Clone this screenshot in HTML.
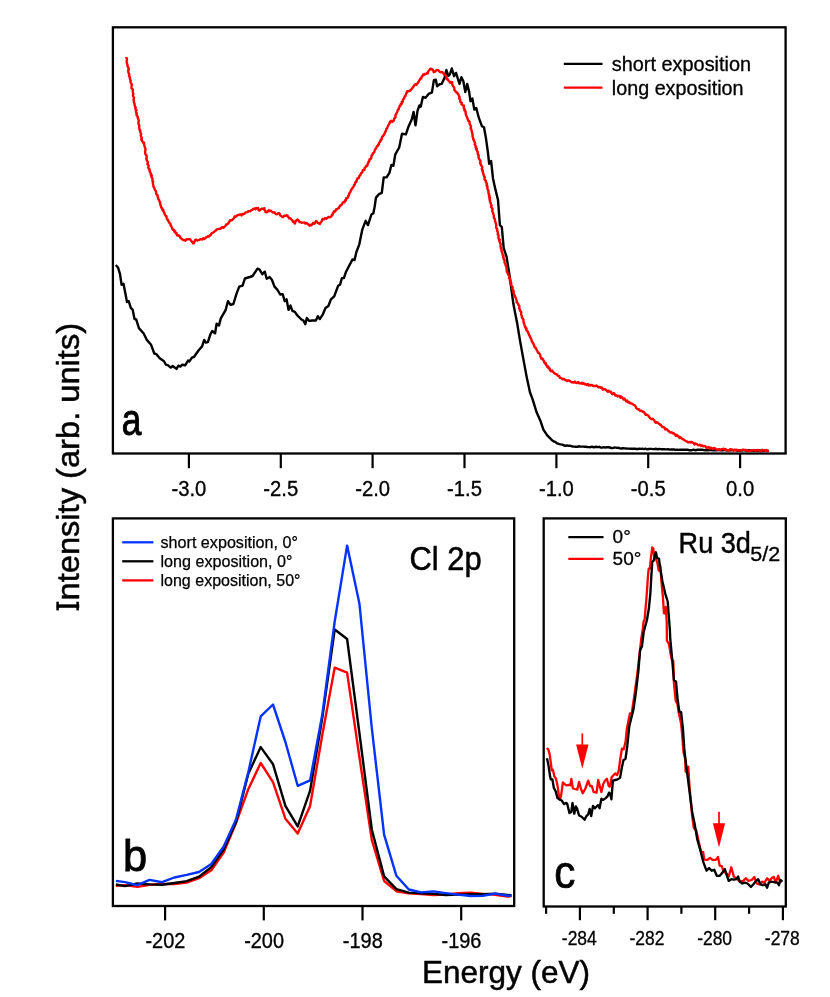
<!DOCTYPE html>
<html><head><meta charset="utf-8"><title>Figure</title>
<style>html,body{margin:0;padding:0;background:#fff;}svg{display:block;will-change:transform;}text{font-family:"Liberation Sans",sans-serif;fill:#000;}</style></head><body>
<svg width="830" height="997" viewBox="0 0 830 997">
<rect x="0" y="0" width="830" height="997" fill="#fff"/>
<path d="M115.8,265.0 L118.1,267.7 L120.0,274.1 L121.6,284.7 L123.5,283.7 L125.4,293.4 L127.0,302.0 L128.7,301.1 L130.8,307.8 L132.7,309.8 L134.5,319.0 L136.2,319.4 L138.9,328.1 L143.7,333.5 L146.6,339.6 L151.1,344.8 L154.3,353.5 L156.3,354.1 L159.7,358.3 L164.0,361.2 L165.9,364.7 L167.8,365.1 L170.7,367.6 L172.7,366.0 L176.5,368.9 L178.4,365.7 L180.4,366.6 L182.3,364.7 L185.2,365.3 L188.1,360.5 L189.4,361.4 L191.9,357.6 L193.9,357.0 L198.7,350.2 L202.1,346.4 L204.1,340.0 L205.8,342.5 L207.9,342.1 L210.2,334.8 L212.2,331.0 L215.1,333.3 L216.6,323.8 L218.9,325.6 L220.8,318.4 L225.7,309.8 L228.0,301.1 L230.5,304.9 L233.4,304.0 L236.3,294.3 L239.2,286.6 L242.6,285.7 L244.9,278.5 L249.8,277.0 L252.6,276.0 L257.5,268.7 L259.4,269.3 L262.3,274.2 L264.8,271.7 L266.7,278.7 L269.6,277.1 L272.0,280.0 L274.5,286.7 L277.3,289.6 L280.2,294.5 L282.7,294.1 L284.7,301.2 L286.6,299.3 L288.5,309.9 L290.5,305.6 L292.4,310.8 L294.7,311.8 L297.6,315.7 L301.4,319.5 L303.4,320.5 L305.3,324.3 L306.8,318.0 L309.2,320.9 L312.0,320.5 L315.9,320.5 L317.8,316.2 L319.8,319.1 L322.7,314.7 L325.5,308.0 L328.4,306.0 L330.9,299.3 L334.2,296.4 L338.1,285.8 L340.0,284.8 L341.9,278.1 L343.9,278.1 L345.8,272.3 L352.5,259.4 L354.5,260.1 L356.4,252.0 L359.3,244.3 L362.2,229.9 L365.6,220.8 L368.0,225.1 L371.4,214.5 L373.3,213.5 L374.6,207.0 L376.0,197.6 L378.9,194.2 L381.8,192.8 L383.7,177.4 L386.6,177.4 L389.5,172.6 L391.4,164.9 L393.4,165.8 L395.3,154.3 L399.2,147.5 L402.0,133.7 L405.9,134.4 L408.2,127.3 L411.7,119.6 L413.6,111.9 L415.5,125.4 L417.5,110.9 L419.4,105.5 L420.7,106.7 L422.9,97.0 L425.6,97.8 L429.0,93.6 L431.9,92.6 L433.9,80.1 L435.8,79.7 L437.1,86.2 L439.6,84.3 L441.6,83.9 L444.5,78.1 L446.4,70.0 L448.3,75.8 L449.9,74.3 L451.8,68.5 L454.1,76.2 L456.0,72.9 L459.5,83.9 L461.4,77.2 L463.3,81.0 L465.3,92.0 L467.2,83.9 L469.1,91.6 L470.5,101.3 L472.4,98.4 L474.3,109.6 L476.3,108.0 L478.8,117.7 L482.0,126.3 L484.0,127.3 L485.9,137.9 L487.8,151.4 L489.2,163.9 L491.1,161.0 L493.0,178.4 L495.5,189.9 L498.0,200.0 L499.9,225.1 L501.8,227.0 L503.7,248.2 L506.6,256.9 L509.5,275.2 L513.4,304.1 L517.2,323.4 L519.9,340.0 L524.1,363.1 L527.0,378.6 L529.9,392.0 L532.8,399.8 L536.6,412.3 L540.5,421.0 L543.4,429.6 L547.2,435.4 L552.0,440.2 L552.0,440.2 L553.1,440.9 L554.3,441.7 L555.5,442.0 L556.6,443.2 L557.8,443.5 L559.4,444.1 L560.9,444.4 L562.4,444.6 L564.0,445.5 L565.5,445.8 L567.0,445.4 L568.4,445.9 L569.8,445.6 L571.3,446.1 L572.8,446.5 L574.2,446.6 L575.6,446.7 L577.1,446.9 L578.6,446.3 L580.0,446.5 L581.6,446.6 L583.1,446.6 L584.5,446.7 L586.0,446.8 L587.5,447.1 L589.0,447.1 L590.5,447.2 L592.0,446.7 L593.5,447.3 L595.0,447.0 L596.4,446.8 L597.9,447.1 L599.3,446.8 L600.9,447.6 L602.3,447.5 L603.8,447.1 L605.3,447.6 L606.8,447.2 L608.3,447.2 L609.8,447.5 L611.3,448.0 L612.7,448.1 L614.2,447.5 L615.7,447.6 L617.1,447.9 L618.7,447.8 L620.1,448.4 L621.6,448.5 L623.1,448.2 L624.6,448.4 L626.1,448.5 L627.5,448.6 L629.0,448.6 L630.5,448.8 L631.9,448.6 L633.5,448.8 L634.9,448.6 L636.4,449.0 L637.9,449.0 L639.5,448.6 L641.0,448.9 L642.5,448.8 L644.0,449.1 L645.5,448.7 L647.1,449.3 L648.5,449.0 L650.1,448.9 L651.6,448.9 L653.1,449.1 L654.6,449.0 L656.1,448.8 L657.6,449.3 L659.1,449.0 L660.6,449.1 L662.1,449.3 L663.6,449.1 L665.1,449.3 L666.6,449.4 L668.1,449.3 L669.6,449.6 L671.1,449.5 L672.6,449.4 L674.1,449.5 L675.6,449.9 L677.1,449.6 L678.6,449.9 L680.1,449.7 L681.5,449.7 L683.1,449.7 L684.5,449.8 L686.0,449.8 L687.5,449.6 L688.9,450.2 L690.5,450.2 L691.9,450.2 L693.5,449.7 L694.9,450.2 L696.4,450.0 L697.8,449.8 L699.3,449.7 L700.8,449.8 L702.3,449.7 L703.8,450.1 L705.3,450.3 L706.8,450.1 L708.2,450.2 L709.7,449.9 L711.2,450.1 L712.6,450.4 L714.2,450.0 L715.6,450.3 L717.1,450.3 L718.6,449.9 L720.2,450.4 L721.7,450.4 L723.3,450.4 L724.8,449.9 L726.4,450.5 L727.8,450.1 L729.4,450.3 L731.0,450.3 L732.5,450.0 L734.0,450.1 L735.5,450.1 L737.2,450.7 L738.6,450.5 L740.2,450.4 L741.7,450.6 L743.2,450.4 L744.7,450.4 L746.2,450.6 L747.7,450.5 L749.2,450.3 L750.7,450.6 L752.3,450.5 L753.8,450.7 L755.2,450.5 L756.8,450.8 L758.3,450.8 L759.8,450.5 L761.3,450.8 L762.7,450.6 L764.3,450.9 L765.8,450.6 L767.3,450.9 L768.8,450.7" fill="none" stroke="#000" stroke-width="2.4" stroke-linejoin="round" stroke-linecap="butt"/>
<path d="M126.4,57.0 L126.4,57.8 L126.9,58.8 L126.9,60.1 L126.6,61.3 L126.7,62.3 L126.9,63.0 L127.5,64.8 L127.3,65.3 L128.0,67.0 L128.1,67.6 L128.7,68.3 L128.7,69.6 L128.1,70.5 L128.5,72.2 L128.5,73.1 L129.2,74.0 L129.3,74.8 L129.0,76.0 L129.9,77.3 L129.8,78.5 L130.1,79.3 L130.7,80.7 L130.4,81.7 L130.9,83.1 L131.4,83.6 L131.9,84.5 L131.5,86.2 L131.5,87.0 L131.6,88.3 L132.6,89.2 L132.9,90.1 L132.8,91.4 L132.9,92.3 L133.3,93.8 L133.1,94.6 L132.9,95.7 L133.7,97.1 L134.0,97.5 L133.7,98.9 L133.5,99.8 L133.9,100.5 L133.9,102.2 L134.2,102.8 L134.6,104.4 L134.5,105.1 L135.2,106.5 L135.7,107.6 L135.3,108.2 L135.7,109.7 L136.5,110.1 L135.9,111.3 L136.2,112.5 L136.8,113.4 L136.4,114.6 L137.1,115.8 L137.9,117.0 L137.7,118.0 L138.1,118.5 L138.6,120.2 L138.8,121.3 L138.5,122.0 L138.4,123.3 L138.6,123.8 L139.0,125.0 L139.3,125.9 L139.1,127.1 L139.4,128.4 L139.5,129.9 L140.3,130.3 L140.1,131.5 L140.5,132.4 L141.2,134.3 L140.9,134.9 L140.7,135.6 L141.2,136.8 L141.9,137.8 L141.2,139.6 L141.9,139.9 L142.1,140.9 L143.1,142.7 L144.2,142.7 L144.0,143.3 L144.0,144.7 L144.6,145.8 L144.5,146.4 L145.2,148.1 L145.4,149.0 L145.5,150.1 L145.0,150.9 L145.3,151.6 L145.1,152.9 L145.5,154.3 L146.4,155.2 L146.6,156.7 L146.8,157.3 L146.3,158.2 L146.5,159.3 L147.2,161.0 L147.7,161.7 L147.8,163.1 L147.4,164.1 L148.5,165.3 L148.6,166.1 L148.3,167.5 L148.7,168.6 L149.6,169.3 L149.4,170.8 L150.1,171.1 L149.9,172.1 L151.1,173.7 L150.7,174.7 L151.9,175.6 L151.4,176.6 L151.5,177.2 L152.6,178.9 L152.4,180.2 L152.5,181.2 L153.2,181.7 L152.8,182.9 L153.1,184.2 L153.3,185.2 L153.5,186.7 L153.9,187.4 L154.6,188.8 L154.9,189.8 L155.4,190.4 L155.8,191.0 L156.2,192.1 L156.1,193.7 L156.7,194.4 L157.7,195.5 L157.6,196.4 L158.2,197.7 L158.0,198.5 L158.5,199.2 L159.4,200.5 L159.5,201.7 L160.2,202.4 L160.2,203.5 L160.4,204.7 L160.7,205.5 L161.1,206.9 L161.7,208.2 L162.2,208.1 L162.6,210.3 L163.2,209.8 L163.5,211.4 L164.0,212.0 L164.6,213.8 L165.3,215.2 L165.6,215.9 L166.2,215.9 L166.8,218.3 L167.1,219.3 L167.7,219.5 L168.3,221.1 L168.6,221.4 L169.2,222.2 L169.6,223.2 L170.3,223.6 L170.7,225.4 L171.1,226.2 L171.9,227.4 L172.4,229.2 L173.3,230.0 L173.8,229.7 L174.4,231.5 L175.1,231.2 L175.8,233.5 L176.6,233.3 L177.1,235.4 L178.1,235.7 L178.8,235.2 L179.9,236.6 L180.6,238.2 L181.6,238.6 L182.3,239.4 L183.2,240.2 L184.2,239.9 L185.4,240.8 L186.5,239.3 L187.8,239.4 L188.9,239.1 L190.1,239.1 L190.7,240.2 L191.5,241.1 L192.0,241.8 L192.6,242.4 L193.1,243.3 L193.9,243.3 L193.7,242.3 L194.9,241.1 L195.1,240.5 L195.2,239.9 L196.2,239.6 L197.3,240.5 L198.2,240.2 L199.3,239.8 L200.3,239.3 L201.2,238.9 L202.2,239.6 L203.2,238.2 L204.2,239.0 L205.4,238.3 L206.2,237.1 L207.1,236.9 L208.0,236.2 L208.9,236.5 L209.9,235.1 L210.6,235.3 L211.5,233.5 L212.3,232.9 L213.3,232.5 L214.1,231.9 L214.9,230.9 L215.8,230.6 L216.6,229.4 L217.5,229.2 L218.5,229.1 L219.4,228.8 L220.4,228.9 L221.3,227.7 L222.4,227.1 L223.4,227.8 L223.9,227.4 L224.9,226.2 L225.6,225.8 L226.2,224.5 L227.1,224.4 L227.9,223.6 L228.6,223.0 L229.3,221.8 L230.2,220.2 L231.2,220.2 L232.0,220.3 L233.0,219.1 L233.8,218.4 L234.6,216.4 L235.5,216.9 L236.4,216.2 L237.4,215.1 L238.5,215.1 L239.3,214.7 L240.5,214.3 L241.5,215.4 L242.4,214.0 L243.4,214.2 L244.5,213.7 L245.4,212.4 L246.3,212.4 L247.5,212.1 L248.4,211.1 L249.3,211.1 L250.4,211.3 L251.4,210.1 L252.4,209.9 L253.4,208.8 L254.5,208.5 L255.5,209.3 L256.3,207.9 L257.5,208.3 L258.1,208.1 L258.7,210.3 L259.3,210.6 L260.2,210.0 L261.3,208.7 L262.2,208.8 L263.1,208.6 L263.8,208.4 L264.4,208.3 L264.3,209.8 L265.3,210.7 L265.4,211.9 L266.7,212.3 L267.6,211.8 L268.7,210.3 L269.7,211.0 L270.7,210.7 L271.5,211.4 L272.7,212.3 L273.5,212.5 L274.4,212.3 L275.6,213.9 L276.8,214.3 L278.0,213.3 L279.3,213.3 L280.2,215.5 L281.3,216.0 L282.2,217.0 L283.2,217.1 L284.1,215.7 L285.1,215.8 L286.1,215.7 L286.7,215.2 L287.7,216.0 L288.4,217.1 L289.1,218.4 L290.1,218.2 L290.8,218.9 L291.6,219.8 L292.3,220.1 L293.1,222.1 L293.9,221.5 L294.8,223.6 L295.7,221.2 L296.6,220.3 L297.6,219.5 L298.5,220.4 L299.5,222.1 L300.5,221.9 L301.4,222.7 L302.3,222.6 L303.2,222.6 L304.5,222.5 L305.3,223.6 L306.4,223.0 L307.3,223.6 L308.4,224.5 L309.6,225.7 L310.6,224.7 L311.3,225.3 L312.4,224.2 L313.2,222.7 L314.1,223.7 L315.1,222.9 L316.0,221.1 L316.8,221.5 L317.9,222.9 L318.9,223.4 L319.8,224.0 L320.4,222.8 L320.8,222.3 L321.5,221.7 L322.2,219.8 L322.6,218.9 L323.9,219.4 L325.0,218.0 L326.3,218.7 L327.5,217.8 L328.5,216.9 L329.3,217.3 L330.5,217.1 L331.4,216.4 L331.8,215.0 L332.6,214.8 L333.0,212.7 L333.6,212.9 L334.2,211.2 L335.2,211.6 L336.1,209.3 L337.1,209.3 L338.1,208.2 L338.8,208.3 L339.4,206.6 L340.1,206.0 L340.7,205.0 L341.2,205.2 L341.8,204.7 L342.7,202.6 L343.4,202.2 L344.3,202.4 L344.9,200.6 L345.7,200.9 L346.2,198.3 L346.7,198.0 L347.5,198.0 L348.0,197.3 L348.5,195.2 L348.9,195.4 L349.5,192.9 L350.0,192.6 L350.5,191.5 L351.0,190.0 L351.5,189.6 L352.2,188.3 L352.8,187.5 L353.1,187.6 L353.8,185.9 L354.1,185.0 L354.7,184.9 L355.2,182.9 L355.9,181.4 L356.4,181.8 L357.0,179.5 L357.4,178.5 L358.2,177.9 L358.8,178.1 L359.2,176.0 L360.0,175.7 L360.4,174.9 L361.0,173.2 L361.5,173.1 L362.3,172.0 L363.0,170.0 L363.4,170.0 L364.3,170.0 L364.7,167.9 L365.4,167.5 L366.1,166.0 L366.7,166.2 L367.4,165.4 L367.8,163.6 L368.2,162.7 L368.8,161.2 L369.2,161.5 L369.6,159.3 L370.1,159.2 L370.6,159.0 L371.3,158.0 L371.6,155.5 L372.0,155.2 L372.7,154.2 L373.0,153.2 L373.7,152.7 L374.3,152.0 L374.9,149.7 L375.5,149.1 L376.0,148.3 L376.6,147.0 L377.1,146.1 L377.6,146.3 L378.3,144.3 L378.9,144.6 L379.4,142.3 L380.0,142.0 L380.6,140.1 L381.0,140.4 L381.6,139.6 L381.9,137.5 L382.5,136.4 L383.2,136.1 L383.8,134.8 L384.3,134.0 L384.6,133.6 L385.3,131.4 L385.7,131.4 L386.1,130.0 L386.5,128.7 L387.1,128.4 L387.6,126.8 L388.0,126.0 L388.6,124.8 L389.0,123.9 L389.6,123.5 L389.9,121.7 L390.5,121.6 L391.5,120.8 L392.3,121.9 L393.4,121.1 L393.6,120.8 L394.0,119.4 L394.5,118.1 L395.5,117.5 L395.3,115.7 L396.1,114.6 L395.8,114.2 L396.7,113.1 L397.1,112.2 L397.7,110.6 L397.7,110.0 L398.8,109.3 L398.7,108.1 L399.5,107.0 L399.7,105.9 L400.6,105.5 L400.6,104.1 L401.9,103.6 L401.7,101.9 L402.6,102.1 L403.0,99.5 L403.6,99.1 L404.0,98.6 L404.5,96.8 L405.0,95.9 L405.4,96.1 L406.0,94.0 L406.3,93.4 L406.8,92.4 L407.2,91.2 L407.9,91.4 L408.7,91.3 L409.9,90.8 L410.6,90.0 L411.2,89.8 L411.9,88.4 L412.5,87.9 L413.2,87.1 L413.9,85.7 L414.5,85.1 L415.6,84.1 L416.6,84.7 L417.5,83.3 L418.1,82.2 L418.6,81.8 L419.2,80.9 L419.9,79.2 L420.6,78.3 L421.2,78.6 L421.8,76.4 L422.4,76.0 L423.1,74.6 L423.7,75.2 L424.3,73.9 L425.1,74.2 L426.1,74.1 L427.2,72.7 L427.8,73.3 L428.3,71.4 L429.1,70.3 L429.8,69.7 L430.4,68.7 L431.0,69.3 L431.6,68.8 L432.5,69.6 L433.0,70.1 L433.8,72.2 L434.9,71.6 L435.7,71.0 L436.6,70.1 L437.7,70.1 L438.8,70.8 L439.6,71.7 L440.5,72.3 L441.6,71.9 L442.6,72.4 L443.7,73.7 L444.5,74.8 L445.0,74.7 L445.7,75.4 L446.2,76.7 L446.7,79.0 L447.2,79.4 L447.7,79.1 L448.2,80.4 L449.3,81.4 L450.3,82.7 L451.1,82.0 L452.2,82.1 L452.1,84.0 L452.6,85.1 L453.1,86.4 L454.0,87.1 L454.4,88.5 L454.3,90.0 L454.8,90.4 L455.7,91.7 L456.7,92.7 L457.2,92.5 L457.9,93.9 L458.4,94.5 L458.9,95.7 L459.6,97.0 L459.2,98.2 L459.4,98.9 L460.2,99.7 L460.2,101.3 L460.5,102.1 L461.9,102.8 L461.5,104.3 L462.8,105.4 L463.8,105.5 L463.8,107.0 L463.8,108.5 L464.9,109.4 L464.4,110.6 L465.5,111.3 L465.8,112.3 L465.5,113.0 L465.8,114.0 L466.2,115.7 L466.9,116.8 L467.2,117.3 L467.4,118.5 L467.9,119.6 L468.2,120.8 L469.0,121.0 L469.6,121.6 L469.5,123.4 L470.3,125.1 L470.6,125.6 L471.0,126.7 L470.6,128.4 L471.3,129.3 L471.6,130.6 L471.7,131.6 L472.2,132.7 L472.2,133.7 L472.6,134.4 L472.5,135.8 L472.7,137.2 L473.0,137.5 L473.3,139.3 L473.8,139.7 L473.8,140.6 L474.8,142.2 L475.1,143.3 L474.7,144.2 L475.3,145.5 L476.1,146.6 L475.6,147.6 L476.8,148.7 L476.2,149.1 L476.5,149.9 L477.6,151.7 L477.6,152.7 L477.9,153.3 L477.7,154.2 L478.7,155.3 L478.5,156.5 L478.5,157.4 L479.1,158.9 L479.5,159.5 L480.4,160.7 L480.6,161.9 L480.0,162.7 L480.7,164.1 L480.9,165.1 L481.4,165.7 L482.1,166.6 L482.3,167.7 L481.7,168.8 L482.8,170.5 L482.3,171.1 L483.1,172.4 L483.1,173.2 L483.6,174.5 L483.8,175.7 L484.1,176.1 L484.8,177.4 L484.5,178.5 L484.7,179.7 L485.7,180.7 L485.9,181.4 L485.9,182.4 L486.7,183.2 L487.0,184.1 L486.5,185.4 L487.6,186.6 L487.3,188.0 L487.4,188.7 L488.0,189.9 L488.5,190.9 L488.4,191.6 L488.4,193.1 L489.1,194.0 L488.8,194.8 L489.6,196.0 L489.0,196.9 L490.0,197.7 L489.4,198.8 L490.1,200.3 L489.8,200.8 L490.1,202.0 L490.7,202.9 L490.8,204.0 L491.7,205.5 L491.0,206.8 L491.3,207.3 L492.5,208.7 L492.5,209.5 L492.2,210.7 L492.3,211.4 L492.9,212.3 L493.2,214.0 L493.7,214.8 L493.9,215.9 L493.7,217.1 L494.2,218.2 L495.0,219.0 L494.9,220.4 L495.0,221.0 L495.6,222.6 L495.9,223.6 L496.2,224.6 L496.2,225.5 L496.1,226.8 L496.2,227.7 L497.1,229.0 L497.2,229.7 L497.2,231.0 L497.7,232.0 L498.0,233.6 L497.7,234.4 L498.6,235.3 L498.6,236.9 L498.3,237.6 L498.7,238.9 L499.8,239.8 L499.1,240.9 L499.9,242.1 L500.1,243.2 L500.7,244.1 L500.5,245.6 L500.5,246.5 L500.9,247.6 L500.9,248.8 L501.4,249.1 L501.6,250.4 L501.6,251.5 L502.3,252.8 L502.5,253.4 L502.6,254.9 L503.6,255.8 L503.1,257.1 L503.6,257.6 L503.6,259.1 L504.6,260.1 L504.5,261.1 L504.5,262.5 L504.9,263.2 L505.6,264.4 L505.5,265.0 L505.9,265.9 L506.4,267.2 L506.7,268.1 L506.5,269.2 L506.9,270.2 L506.8,271.7 L507.4,272.3 L507.8,273.6 L508.3,274.8 L508.9,275.6 L509.5,277.1 L509.0,278.1 L510.2,279.1 L509.8,280.2 L510.6,280.6 L510.3,282.4 L511.3,282.9 L510.9,283.8 L511.4,285.4 L511.8,285.9 L512.7,287.5 L512.2,288.6 L513.0,289.6 L513.3,290.7 L513.7,291.7 L513.4,292.6 L514.0,293.7 L514.2,294.8 L514.8,295.3 L514.8,296.3 L515.5,297.2 L515.9,298.3 L516.3,299.7 L516.8,301.1 L516.6,302.1 L517.5,302.9 L518.2,304.2 L518.2,304.8 L519.3,305.6 L519.3,307.1 L519.0,308.1 L520.0,309.4 L519.9,310.5 L520.4,311.1 L521.1,311.7 L521.2,313.3 L521.1,314.5 L521.5,315.2 L521.9,316.5 L521.9,317.2 L522.4,318.3 L523.2,319.1 L523.5,320.2 L523.4,321.1 L523.7,322.8 L524.2,323.7 L524.3,324.3 L524.7,325.6 L525.5,326.8 L525.3,327.8 L526.6,328.6 L526.2,329.5 L526.6,330.4 L528.0,331.8 L528.2,333.0 L528.9,333.9 L529.0,334.9 L529.6,335.9 L530.0,336.6 L530.3,337.8 L530.8,338.1 L531.2,338.9 L531.8,341.5 L532.2,341.5 L532.8,343.2 L533.2,343.2 L533.6,344.4 L534.1,345.4 L534.6,347.3 L535.0,347.5 L535.6,347.6 L536.4,349.4 L536.9,350.1 L537.3,350.9 L538.0,352.8 L538.6,352.9 L539.0,353.1 L539.7,354.2 L540.1,354.8 L540.6,356.9 L541.2,358.3 L541.7,359.1 L542.3,358.4 L543.1,359.7 L543.7,360.5 L544.2,362.4 L545.0,363.5 L545.7,363.0 L546.3,365.0 L546.9,366.3 L547.5,367.2 L548.2,366.4 L548.7,368.4 L549.5,368.3 L550.0,370.3 L551.0,371.2 L552.0,370.4 L553.0,371.9 L554.0,372.8 L554.8,373.6 L555.9,374.0 L556.8,374.2 L557.5,375.5 L558.5,376.1 L559.2,375.9 L559.9,377.8 L560.9,378.1 L561.7,378.4 L562.9,379.2 L563.9,378.7 L565.0,380.1 L566.1,380.2 L567.2,381.0 L568.4,380.3 L569.3,380.7 L570.5,381.4 L571.7,382.2 L572.6,382.3 L573.9,382.5 L574.9,381.6 L576.1,382.8 L577.1,383.1 L578.1,381.9 L579.2,383.4 L580.2,383.5 L581.5,382.8 L582.5,383.8 L583.5,383.1 L584.5,384.3 L585.7,384.0 L586.6,384.9 L587.9,384.0 L588.9,385.5 L590.0,385.0 L591.0,385.3 L592.0,384.9 L593.1,386.0 L594.2,386.0 L595.3,386.1 L596.3,385.5 L597.6,386.5 L598.5,387.4 L599.8,386.9 L600.8,387.7 L601.9,387.5 L602.9,389.7 L604.2,389.2 L605.1,389.2 L606.1,390.0 L607.1,391.1 L608.0,391.9 L608.8,390.7 L609.8,391.5 L610.7,391.7 L611.8,393.7 L612.7,394.2 L613.8,393.1 L614.7,394.1 L615.5,395.6 L616.5,395.3 L617.6,396.5 L618.6,395.9 L619.5,395.9 L620.6,397.8 L621.3,396.6 L622.3,397.8 L623.4,399.4 L624.4,398.4 L625.4,400.3 L626.3,401.4 L627.1,400.5 L628.3,402.5 L629.2,402.0 L630.2,403.4 L631.0,403.3 L631.9,403.6 L632.8,404.3 L633.6,404.8 L634.6,405.2 L635.5,406.2 L636.2,408.1 L637.1,408.8 L638.2,409.3 L638.9,409.2 L639.7,410.6 L640.8,410.7 L641.5,410.8 L642.5,411.7 L643.3,411.7 L644.0,412.2 L645.0,413.7 L645.7,414.9 L646.6,414.7 L647.4,415.0 L648.4,415.7 L649.0,416.6 L649.9,418.0 L650.7,418.7 L651.5,419.2 L652.5,418.7 L653.3,419.5 L654.1,420.0 L655.0,422.1 L656.0,422.7 L656.6,422.3 L657.7,422.5 L658.5,423.6 L659.4,423.8 L660.3,425.0 L660.9,425.0 L662.0,426.6 L662.7,427.0 L663.8,427.2 L664.6,427.7 L665.3,429.5 L666.3,429.0 L667.0,429.4 L668.1,430.8 L668.8,430.9 L669.9,432.3 L670.9,432.6 L671.7,432.2 L672.8,433.4 L673.8,433.3 L674.8,434.3 L675.8,435.8 L676.7,434.8 L677.7,436.2 L678.7,436.4 L679.5,437.9 L680.5,437.2 L681.4,438.4 L682.3,438.8 L683.4,439.3 L684.3,440.1 L685.4,440.9 L686.2,441.1 L687.2,441.7 L688.1,442.4 L689.4,442.0 L690.3,442.5 L691.4,441.9 L692.6,442.6 L693.4,442.8 L694.5,444.4 L695.5,443.5 L696.8,444.0 L697.7,445.1 L698.9,445.2 L700.0,444.7 L701.1,446.1 L702.0,445.3 L703.2,446.3 L704.2,445.9 L705.3,446.2 L706.4,447.8 L707.4,447.5 L708.6,447.0 L709.7,448.5 L710.7,447.7 L711.9,448.1 L712.8,449.0 L714.0,448.0 L714.9,448.2 L716.0,449.5 L717.2,449.5 L718.3,449.5 L719.1,449.1 L720.4,449.9 L721.3,449.1 L722.5,449.1 L723.5,448.7 L724.5,449.6 L725.5,449.0 L726.8,450.3 L727.9,450.1 L729.0,450.6 L730.2,449.1 L731.2,449.5 L732.4,449.6 L733.5,450.8 L734.6,449.6 L735.7,450.0 L736.9,449.8 L737.9,450.5 L739.0,450.4 L740.3,450.3 L741.2,450.3 L742.4,449.7 L743.4,449.7 L744.6,450.2 L745.7,449.9 L746.7,450.5 L748.0,450.6 L749.1,450.7 L750.1,450.8 L751.3,450.5 L752.4,450.4 L753.4,450.0 L754.5,450.5 L755.7,450.7 L756.7,450.2 L758.0,450.0 L759.0,450.5 L760.0,451.4 L761.1,451.0 L762.2,449.7 L763.4,450.4 L764.3,450.3 L765.5,450.9 L766.5,450.0 L767.8,450.9 L768.7,450.2" fill="none" stroke="#ff0000" stroke-width="2.4" stroke-linejoin="round" stroke-linecap="butt"/>
<path d="M115.9,885.8 L125.0,885.1 L137.3,886.9 L149.6,884.7 L162.0,884.0 L174.3,884.0 L186.7,882.5 L199.0,878.2 L211.3,870.2 L223.7,852.5 L236.0,823.0 L248.4,788.9 L260.7,763.0 L273.0,782.1 L285.4,818.7 L297.7,833.6 L310.1,805.9 L322.4,734.3 L334.7,667.6 L347.1,672.6 L359.4,757.0 L371.8,839.8 L384.1,881.0 L396.4,891.2 L408.8,893.4 L421.1,894.0 L433.5,895.0 L445.8,894.6 L458.1,893.1 L470.5,892.7 L482.8,893.9 L495.2,894.9 L507.5,896.5 L511.5,896.0" fill="none" stroke="#ff0000" stroke-width="2.4" stroke-linejoin="round" stroke-linecap="butt"/>
<path d="M115.9,884.5 L125.0,886.1 L137.3,883.5 L149.6,884.4 L162.0,884.7 L174.3,883.0 L186.7,881.1 L199.0,876.7 L211.3,867.1 L223.7,849.5 L236.0,822.1 L248.4,773.5 L260.7,747.1 L273.0,764.2 L285.4,805.9 L297.7,826.4 L310.1,790.6 L322.4,717.3 L334.7,629.5 L347.1,639.0 L359.4,733.0 L371.8,829.5 L384.1,876.4 L396.4,889.2 L408.8,892.6 L421.1,893.2 L433.5,893.9 L445.8,895.0 L458.1,894.6 L470.5,894.3 L482.8,894.3 L495.2,893.6 L507.5,894.9 L511.5,895.3" fill="none" stroke="#000" stroke-width="2.4" stroke-linejoin="round" stroke-linecap="butt"/>
<path d="M115.9,880.9 L125.0,882.1 L137.3,885.2 L149.6,879.9 L162.0,882.2 L174.3,877.5 L186.7,874.9 L199.0,872.0 L211.3,864.0 L223.7,846.5 L236.0,819.6 L248.4,771.8 L260.7,716.4 L273.0,704.5 L285.4,742.0 L297.7,785.8 L310.1,780.4 L322.4,714.0 L334.7,621.5 L347.1,545.6 L359.4,603.4 L371.8,728.0 L384.1,834.7 L396.4,875.8 L408.8,889.5 L421.1,892.4 L433.5,891.4 L445.8,893.1 L458.1,894.6 L470.5,896.0 L482.8,895.7 L495.2,893.6 L507.5,895.7 L511.5,895.6" fill="none" stroke="#0033ff" stroke-width="2.4" stroke-linejoin="round" stroke-linecap="butt"/>
<path d="M547.0,747.8 L548.4,749.9 L549.6,754.1 L550.8,762.5 L551.7,770.4 L552.9,769.8 L554.4,776.4 L556.0,778.8 L557.7,786.6 L558.9,795.7 L559.9,799.9 L561.1,795.7 L562.9,782.4 L564.7,784.2 L566.5,785.4 L568.9,784.8 L570.5,785.4 L571.3,778.8 L572.9,788.4 L574.9,789.0 L577.3,789.6 L579.1,781.8 L581.0,789.0 L582.8,793.3 L585.2,789.0 L588.2,780.6 L590.0,786.0 L591.8,786.0 L593.6,792.0 L596.6,792.7 L598.2,780.0 L599.9,786.6 L601.4,792.0 L603.2,784.2 L605.0,780.6 L606.9,778.8 L608.7,786.0 L609.9,786.6 L611.7,777.0 L613.5,775.2 L615.3,773.4 L617.1,775.2 L618.7,771.0 L620.1,760.1 L621.9,748.7 L623.7,749.3 L625.5,742.0 L626.9,728.4 L629.9,713.4 L631.7,713.4 L634.1,697.1 L637.1,675.4 L639.5,654.9 L641.3,638.1 L642.7,630.0 L643.6,621.3 L644.6,619.8 L646.5,597.7 L648.0,575.5 L648.7,568.7 L649.9,568.7 L651.0,557.2 L652.3,547.5 L653.3,548.5 L654.2,556.2 L656.1,559.1 L657.6,563.9 L658.6,570.2 L659.5,570.7 L660.4,566.0 L661.4,581.3 L662.9,596.7 L663.9,613.1 L665.3,613.6 L665.8,606.8 L666.7,621.7 L666.9,640.5 L669.0,644.1 L671.4,658.6 L673.3,661.0 L673.9,682.7 L675.7,700.7 L677.5,704.3 L678.7,712.8 L681.1,723.6 L682.0,733.0 L683.5,752.2 L685.2,759.0 L685.6,771.8 L688.3,766.7 L689.5,786.3 L692.1,815.3 L693.8,828.0 L696.3,830.6 L698.9,842.5 L701.4,852.8 L703.1,851.9 L704.3,859.6 L707.4,859.9 L710.0,857.9 L712.5,859.9 L715.9,859.9 L718.0,857.0 L719.7,865.6 L721.9,866.4 L723.6,871.5 L726.2,873.2 L728.7,876.6 L731.3,867.3 L733.8,876.6 L736.4,878.3 L739.8,881.7 L743.2,880.9 L745.8,878.3 L748.3,880.9 L751.7,880.0 L754.3,877.0 L756.8,883.5 L759.4,884.3 L762.0,881.7 L764.5,882.6 L767.1,878.3 L769.6,880.9 L772.2,877.5 L773.9,877.0 L775.6,882.6 L778.2,875.8 L779.9,881.7 L782.1,880.9" fill="none" stroke="#ff0000" stroke-width="2.3" stroke-linejoin="round" stroke-linecap="butt"/>
<path d="M547.0,758.3 L548.4,764.9 L550.0,775.8 L550.8,779.4 L552.4,779.4 L553.8,787.8 L555.7,791.4 L557.5,798.1 L559.3,799.3 L561.7,800.5 L564.1,804.1 L565.9,802.9 L567.1,803.5 L569.5,813.1 L571.3,811.9 L572.5,802.9 L574.3,813.7 L575.8,806.5 L577.0,808.3 L579.1,815.5 L581.6,816.7 L584.6,819.8 L586.4,816.1 L588.2,814.3 L589.7,808.9 L591.2,816.1 L593.0,805.9 L594.8,808.3 L596.6,806.5 L598.2,805.3 L599.6,808.3 L601.4,798.7 L603.2,799.9 L605.7,798.1 L607.5,796.3 L609.0,792.7 L610.2,793.9 L611.4,799.3 L612.9,780.6 L615.3,780.0 L617.7,779.4 L620.1,777.6 L621.9,767.3 L623.5,760.1 L625.5,758.9 L627.3,745.7 L629.3,726.0 L631.7,716.4 L633.5,709.2 L635.9,692.3 L638.3,671.8 L640.1,650.1 L641.9,646.5 L643.7,632.0 L647.0,619.8 L648.9,608.3 L650.4,592.8 L651.3,576.4 L652.3,562.0 L653.7,560.5 L654.7,556.2 L655.9,552.3 L657.1,558.1 L659.0,558.6 L660.0,566.8 L662.4,581.3 L665.3,593.8 L667.7,601.5 L668.7,615.0 L669.9,630.0 L670.2,638.1 L672.0,657.3 L673.9,680.2 L676.0,681.4 L677.5,698.3 L679.3,711.6 L681.1,712.2 L682.9,728.4 L684.4,750.5 L686.9,770.9 L689.5,791.4 L692.1,811.8 L694.6,823.8 L697.2,839.1 L700.6,851.1 L703.1,861.3 L706.5,870.7 L709.1,868.1 L711.7,870.7 L714.2,869.8 L716.8,875.8 L719.7,875.8 L722.7,872.4 L724.8,869.0 L727.0,875.8 L728.7,880.9 L731.3,879.2 L733.8,879.7 L736.4,879.2 L738.1,876.6 L739.8,881.7 L742.3,883.5 L744.9,882.6 L747.5,883.5 L750.9,886.9 L753.4,884.3 L756.0,880.9 L758.2,879.2 L760.3,884.3 L762.8,885.2 L765.4,884.3 L767.1,887.7 L768.8,882.6 L771.3,881.7 L773.9,882.1 L777.3,882.6 L779.0,885.2 L780.4,880.0 L782.4,881.7" fill="none" stroke="#000" stroke-width="2.35" stroke-linejoin="round" stroke-linecap="butt"/>
<rect x="112.9" y="27.3" width="672.7" height="426.2" fill="none" stroke="#000" stroke-width="2.3"/>
<rect x="112.9" y="518.4" width="401.3" height="387.6" fill="none" stroke="#000" stroke-width="2.3"/>
<rect x="543.7" y="518.4" width="242.1" height="388.1" fill="none" stroke="#000" stroke-width="2.3"/>
<line x1="188.9" y1="453.5" x2="188.9" y2="468.2" stroke="#000" stroke-width="2.2"/>
<text x="188.9" y="496.2" font-size="21.2" text-anchor="middle" textLength="34.89" lengthAdjust="spacingAndGlyphs" stroke="#000" stroke-width="0.34">-3.0</text>
<line x1="280.8" y1="453.5" x2="280.8" y2="468.2" stroke="#000" stroke-width="2.2"/>
<text x="280.8" y="496.2" font-size="21.2" text-anchor="middle" textLength="34.89" lengthAdjust="spacingAndGlyphs" stroke="#000" stroke-width="0.34">-2.5</text>
<line x1="372.6" y1="453.5" x2="372.6" y2="468.2" stroke="#000" stroke-width="2.2"/>
<text x="372.6" y="496.2" font-size="21.2" text-anchor="middle" textLength="34.89" lengthAdjust="spacingAndGlyphs" stroke="#000" stroke-width="0.34">-2.0</text>
<line x1="464.5" y1="453.5" x2="464.5" y2="468.2" stroke="#000" stroke-width="2.2"/>
<text x="464.5" y="496.2" font-size="21.2" text-anchor="middle" textLength="34.89" lengthAdjust="spacingAndGlyphs" stroke="#000" stroke-width="0.34">-1.5</text>
<line x1="556.4" y1="453.5" x2="556.4" y2="468.2" stroke="#000" stroke-width="2.2"/>
<text x="556.4" y="496.2" font-size="21.2" text-anchor="middle" textLength="34.89" lengthAdjust="spacingAndGlyphs" stroke="#000" stroke-width="0.34">-1.0</text>
<line x1="648.2" y1="453.5" x2="648.2" y2="468.2" stroke="#000" stroke-width="2.2"/>
<text x="648.2" y="496.2" font-size="21.2" text-anchor="middle" textLength="34.89" lengthAdjust="spacingAndGlyphs" stroke="#000" stroke-width="0.34">-0.5</text>
<line x1="740.1" y1="453.5" x2="740.1" y2="468.2" stroke="#000" stroke-width="2.2"/>
<text x="740.1" y="496.2" font-size="21.2" text-anchor="middle" textLength="28.14" lengthAdjust="spacingAndGlyphs" stroke="#000" stroke-width="0.34">0.0</text>
<line x1="165.1" y1="906.0" x2="165.1" y2="920.4" stroke="#000" stroke-width="2.2"/>
<text x="165.4" y="948.4" font-size="21.2" text-anchor="middle" textLength="39.89" lengthAdjust="spacingAndGlyphs" stroke="#000" stroke-width="0.34">-202</text>
<line x1="263.8" y1="906.0" x2="263.8" y2="920.4" stroke="#000" stroke-width="2.2"/>
<text x="264.1" y="948.4" font-size="21.2" text-anchor="middle" textLength="39.89" lengthAdjust="spacingAndGlyphs" stroke="#000" stroke-width="0.34">-200</text>
<line x1="362.5" y1="906.0" x2="362.5" y2="920.4" stroke="#000" stroke-width="2.2"/>
<text x="362.8" y="948.4" font-size="21.2" text-anchor="middle" textLength="39.89" lengthAdjust="spacingAndGlyphs" stroke="#000" stroke-width="0.34">-198</text>
<line x1="461.2" y1="906.0" x2="461.2" y2="920.4" stroke="#000" stroke-width="2.2"/>
<text x="461.5" y="948.4" font-size="21.2" text-anchor="middle" textLength="39.89" lengthAdjust="spacingAndGlyphs" stroke="#000" stroke-width="0.34">-196</text>
<line x1="546.1" y1="906.5" x2="546.1" y2="913.8" stroke="#000" stroke-width="2.2"/>
<line x1="579.9" y1="906.5" x2="579.9" y2="920.2" stroke="#000" stroke-width="2.2"/>
<text x="579.3" y="944.6" font-size="19.4" text-anchor="middle" textLength="34.95" lengthAdjust="spacingAndGlyphs" stroke="#000" stroke-width="0.31">-284</text>
<line x1="613.8" y1="906.5" x2="613.8" y2="913.8" stroke="#000" stroke-width="2.2"/>
<line x1="647.6" y1="906.5" x2="647.6" y2="920.2" stroke="#000" stroke-width="2.2"/>
<text x="647.0" y="944.6" font-size="19.4" text-anchor="middle" textLength="34.95" lengthAdjust="spacingAndGlyphs" stroke="#000" stroke-width="0.31">-282</text>
<line x1="681.4" y1="906.5" x2="681.4" y2="913.8" stroke="#000" stroke-width="2.2"/>
<line x1="715.2" y1="906.5" x2="715.2" y2="920.2" stroke="#000" stroke-width="2.2"/>
<text x="714.6" y="944.6" font-size="19.4" text-anchor="middle" textLength="34.95" lengthAdjust="spacingAndGlyphs" stroke="#000" stroke-width="0.31">-280</text>
<line x1="749.1" y1="906.5" x2="749.1" y2="913.8" stroke="#000" stroke-width="2.2"/>
<line x1="782.9" y1="906.5" x2="782.9" y2="920.2" stroke="#000" stroke-width="2.2"/>
<text x="782.3" y="944.6" font-size="19.4" text-anchor="middle" textLength="34.95" lengthAdjust="spacingAndGlyphs" stroke="#000" stroke-width="0.31">-278</text>
<line x1="563.8" y1="63.9" x2="602.5" y2="63.9" stroke="#000" stroke-width="2.3"/>
<line x1="563.8" y1="87.7" x2="602.5" y2="87.7" stroke="#ff0000" stroke-width="2.3"/>
<text x="611.8" y="71.0" font-size="19.5" text-anchor="start" textLength="139.31" lengthAdjust="spacingAndGlyphs" stroke="#000" stroke-width="0.31">short exposition</text>
<text x="611.8" y="95.1" font-size="19.5" text-anchor="start" textLength="131.78" lengthAdjust="spacingAndGlyphs" stroke="#000" stroke-width="0.31">long exposition</text>
<line x1="122.2" y1="542.3" x2="153.4" y2="542.3" stroke="#0033ff" stroke-width="2.3"/>
<line x1="122.2" y1="561.3" x2="153.4" y2="561.3" stroke="#000" stroke-width="2.3"/>
<line x1="122.2" y1="580.4" x2="153.4" y2="580.4" stroke="#ff0000" stroke-width="2.3"/>
<text x="160.5" y="547.8" font-size="15.7" text-anchor="start" textLength="137.44" lengthAdjust="spacingAndGlyphs" stroke="#000" stroke-width="0.25">short exposition, 0°</text>
<text x="160.5" y="566.9" font-size="15.7" text-anchor="start" textLength="131.94" lengthAdjust="spacingAndGlyphs" stroke="#000" stroke-width="0.25">long exposition, 0°</text>
<text x="160.5" y="586.0" font-size="15.7" text-anchor="start" textLength="139.95" lengthAdjust="spacingAndGlyphs" stroke="#000" stroke-width="0.25">long exposition, 50°</text>
<line x1="568.3" y1="537.2" x2="603.5" y2="537.2" stroke="#000" stroke-width="2.3"/>
<line x1="568.3" y1="558.8" x2="603.5" y2="558.8" stroke="#ff0000" stroke-width="2.3"/>
<text x="612.6" y="543.1" font-size="19.0" text-anchor="start" textLength="18.17" lengthAdjust="spacingAndGlyphs" stroke="#000" stroke-width="0.3">0°</text>
<text x="612.6" y="564.7" font-size="19.0" text-anchor="start" textLength="28.73" lengthAdjust="spacingAndGlyphs" stroke="#000" stroke-width="0.3">50°</text>
<text x="409.5" y="569.6" font-size="32.5" text-anchor="start" textLength="72.08" lengthAdjust="spacingAndGlyphs" stroke="#000" stroke-width="0.52">Cl 2p</text>
<text x="678.6" y="552.5" font-size="28.8" text-anchor="start" textLength="72.24" lengthAdjust="spacingAndGlyphs" stroke="#000" stroke-width="0.46">Ru 3d</text>
<text x="750.3" y="560.6" font-size="20.3" text-anchor="start" textLength="29.91" lengthAdjust="spacingAndGlyphs" stroke="#000" stroke-width="0.32">5/2</text>
<text x="121.7" y="434.9" font-size="44" text-anchor="start" textLength="19.58" lengthAdjust="spacingAndGlyphs" stroke="#000" stroke-width="1.0">a</text>
<text x="123.0" y="871.4" font-size="44.3" text-anchor="start" textLength="24.14" lengthAdjust="spacingAndGlyphs" stroke="#000" stroke-width="0.9">b</text>
<text x="554.3" y="888.1" font-size="45.5" text-anchor="start" textLength="21.16" lengthAdjust="spacingAndGlyphs" stroke="#000" stroke-width="0.7">c</text>
<text x="422.0" y="982.9" font-size="31.5" text-anchor="start" stroke="#000" stroke-width="0.5">Energy (eV)</text>
<g transform="translate(78.8,0) rotate(-90)" stroke="#000" stroke-width="0.5">
<text x="-610.4" y="0" font-size="31.5" text-anchor="start">I</text>
<text x="-600.5" y="0" font-size="31.5" text-anchor="start" textLength="277.6" lengthAdjust="spacingAndGlyphs">ntensity (arb. units)</text>
</g>
<line x1="57.6" y1="601.7" x2="57.6" y2="610.4" stroke="#000" stroke-width="2.5"/>
<line x1="77.6" y1="601.7" x2="77.6" y2="610.4" stroke="#000" stroke-width="2.5"/>
<line x1="582.3" y1="733.4" x2="582.3" y2="745.5" stroke="#ff0000" stroke-width="1.7"/>
<polygon points="576.0999999999999,744.5 588.5,744.5 582.3,768.8" fill="#ff0000"/>
<line x1="719.0" y1="811.8" x2="719.0" y2="824.3" stroke="#ff0000" stroke-width="1.7"/>
<polygon points="712.9,823.3 725.1,823.3 719.0,847.6" fill="#ff0000"/>
</svg></body></html>
